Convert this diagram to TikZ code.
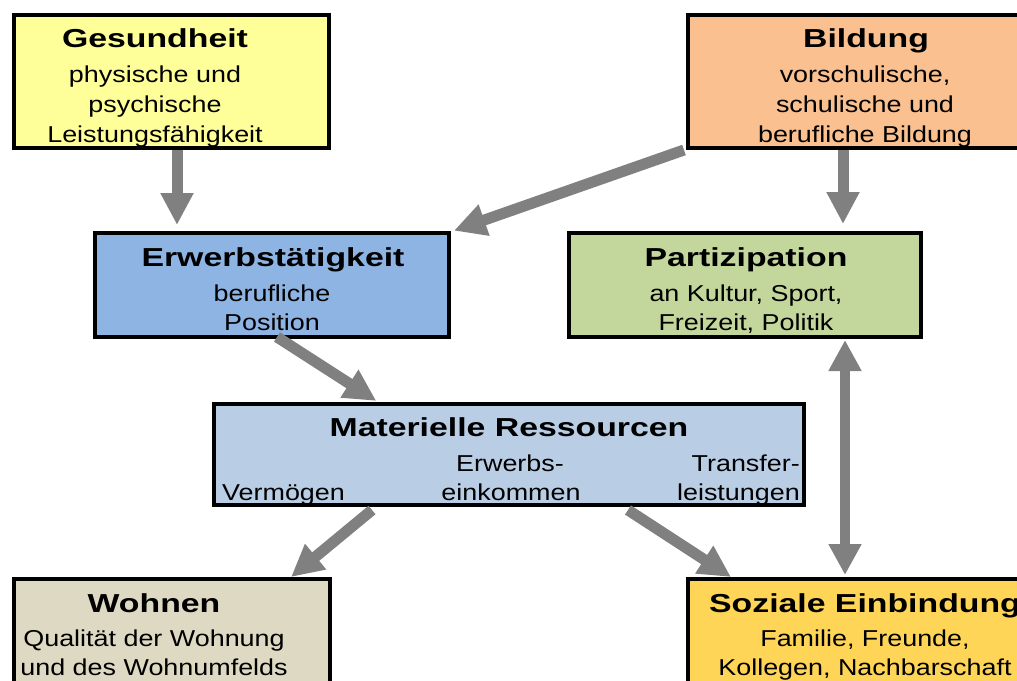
\documentclass[tikz,border=0pt]{standalone}
\usepackage{fontspec}
\usetikzlibrary{arrows.meta}
\newfontfamily\titlefont[FakeStretch=1.3]{Liberation Sans}
\newfontfamily\bodyfont[FakeStretch=1.17]{Liberation Sans}
\definecolor{cges}{HTML}{FFFF99}
\definecolor{cbild}{HTML}{FAC090}
\definecolor{cerw}{HTML}{8EB4E3}
\definecolor{cpart}{HTML}{C3D69B}
\definecolor{cmat}{HTML}{B9CDE5}
\definecolor{cwohn}{HTML}{DDD9C3}
\definecolor{csoz}{HTML}{FFD557}
\definecolor{arrgray}{HTML}{808080}
\begin{document}
\begin{tikzpicture}[x=1pt,y=-1pt,
  box/.style={draw=black,line width=4pt,inner sep=0pt,outer sep=2pt},
  ttl/.style={font=\titlefont\bfseries\fontsize{26}{30}\selectfont,inner sep=0pt,anchor=base},
  txt/.style={font=\bodyfont\fontsize{23}{30}\selectfont,inner sep=0pt,anchor=base},
  arr/.style={draw=arrgray,line width=11pt,-{Triangle[width=31pt,length=32pt]}},
  darr/.style={draw=arrgray,line width=10pt,{Triangle[width=31pt,length=31pt]}-{Triangle[width=31pt,length=31pt]}}]
\useasboundingbox (0,0) rectangle (1017,680);
\clip (0,0) rectangle (1017,680);
% boxes
\node[box,fill=cges,minimum width=315pt,minimum height=133pt] (ges) at (171.5,81.5) {};
\node[box,fill=cbild,minimum width=342pt,minimum height=133pt] (bild) at (859,81.5) {};
\node[box,fill=cerw,minimum width=354pt,minimum height=104pt] (erw) at (272,285) {};
\node[box,fill=cpart,minimum width=352pt,minimum height=104pt] (part) at (745,285) {};
\node[box,fill=cmat,minimum width=590pt,minimum height=101pt] (mat) at (509,454.5) {};
\node[box,fill=cwohn,minimum width=316pt,minimum height=141pt] (wohn) at (172,649.5) {};
\node[box,fill=csoz,minimum width=342pt,minimum height=141pt] (soz) at (859,649.5) {};
% texts
\node[ttl] (gesT) at (155,47) {Gesundheit};
\node[txt] (gesA) at (155,82) {physische und};
\node[txt] (gesB) at (155,112) {psychische};
\node[txt] (gesC) at (155,142) {Leistungsfähigkeit};
\node[ttl] (bildT) at (866,47) {Bildung};
\node[txt] (bildA) at (865,82) {vorschulische,};
\node[txt] (bildB) at (865,112) {schulische und};
\node[txt] (bildC) at (865,142) {berufliche Bildung};
\node[ttl] (erwT) at (273,266) {Erwerbstätigkeit};
\node[txt] (erwA) at (272,301) {berufliche};
\node[txt] (erwB) at (272,330) {Position};
\node[ttl] (partT) at (746,266) {Partizipation};
\node[txt] (partA) at (746,301) {an Kultur, Sport,};
\node[txt] (partB) at (746,330) {Freizeit, Politik};
\node[ttl] (matT) at (509,436) {Materielle Ressourcen};
\node[txt,anchor=base west] (matA) at (222,500) {Vermögen};
\node[txt] (matB1) at (510,471) {Erwerbs-};
\node[txt] (matB2) at (511,500) {einkommen};
\node[txt,anchor=base east] (matC1) at (800,471) {Transfer-};
\node[txt,anchor=base east] (matC2) at (800,500) {leistungen};
\node[ttl] (wohnT) at (154,612) {Wohnen};
\node[txt] (wohnA) at (154,646) {Qualität der Wohnung};
\node[txt] (wohnB) at (154,675) {und des Wohnumfelds};
\node[ttl] (sozT) at (865,612) {Soziale Einbindung};
\node[txt] (sozA) at (865,646) {Familie, Freunde,};
\node[txt] (sozB) at (865,675) {Kollegen, Nachbarschaft};
% arrows
\draw[arr,shorten >=6pt] ([xshift=5.5pt]ges.south) -- ([xshift=5.5pt]ges.south |- erw.north);
\draw[arr,shorten >=1pt] ([xshift=-2pt]bild.south west) -- ([xshift=2pt]erw.north east);
\draw[arr,shorten >=7pt] ([xshift=-16pt]bild.south) -- ([xshift=-16pt]bild.south |- part.north);
\draw[arr,shorten >=2pt] ([xshift=5pt,yshift=2pt]erw.south) -- ([xshift=-131pt]mat.north);
\draw[arr] ([xshift=-137pt,yshift=-3pt]mat.south) -- ([xshift=119pt]wohn.north);
\draw[arr] ([xshift=119pt,yshift=-3pt]mat.south) -- ([xshift=-128pt]soz.north);
\draw[darr,shorten <=1pt,shorten >=2pt] ([xshift=100pt]part.south) -- ([xshift=100pt]part.south |- soz.north);
\end{tikzpicture}
\end{document}
